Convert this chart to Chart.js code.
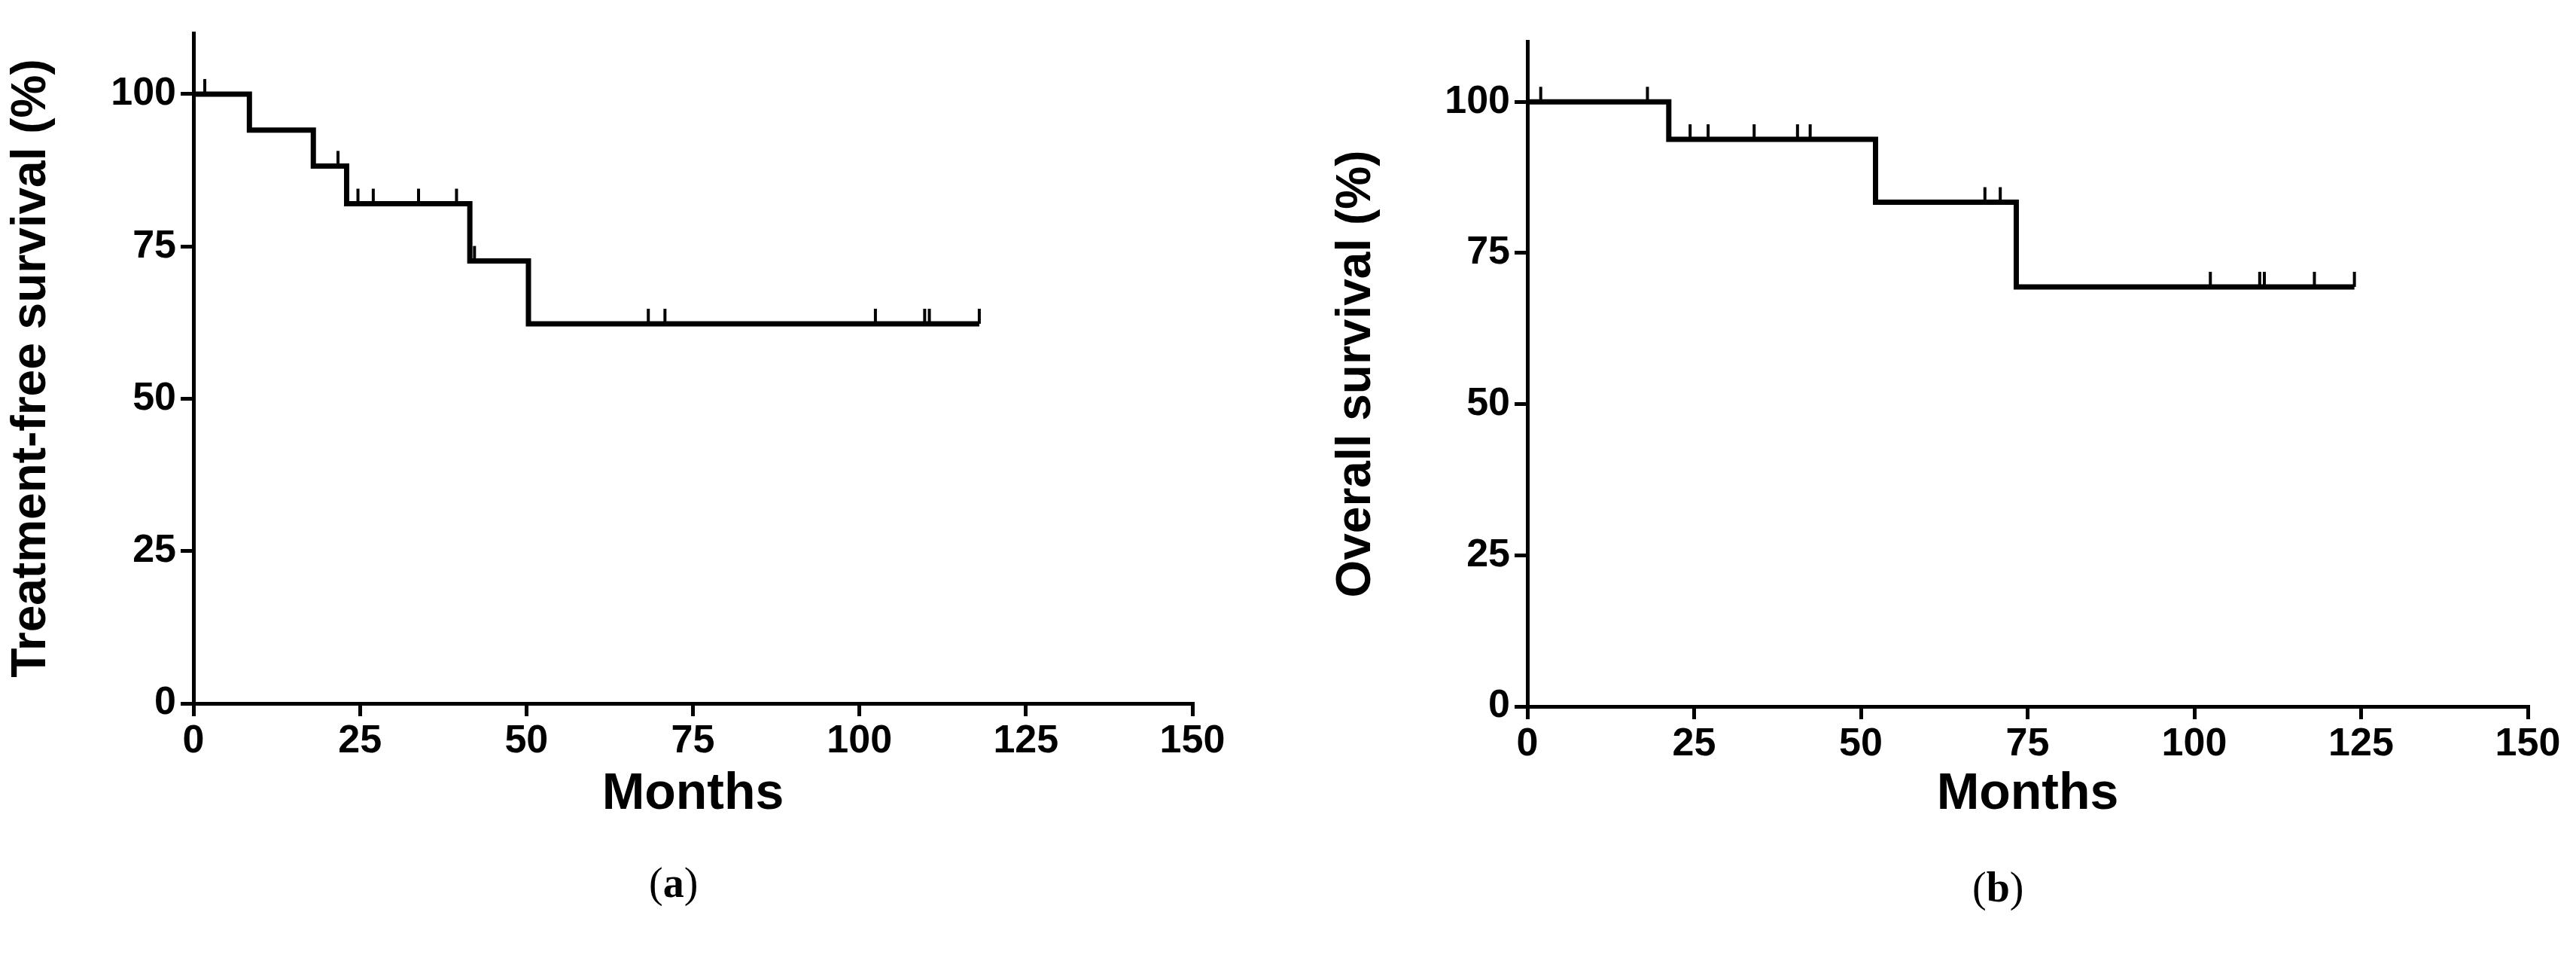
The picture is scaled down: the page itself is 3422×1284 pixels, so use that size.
<!DOCTYPE html>
<html>
<head>
<meta charset="utf-8">
<script src="https://cdn.jsdelivr.net/npm/chart.js@4.4.0/dist/chart.umd.min.js"></script>
<style>
  body { margin: 0; background: #fff; width: 3422px; height: 1284px; position: relative; overflow: hidden; }
  canvas { position: absolute; top: 0; }
  .cap { position: absolute; font-family: "Liberation Serif", serif; font-size: 56px; color: #000; }
</style>
</head>
<body>
<canvas id="chartA" width="1700" height="1100" style="left:0"></canvas>
<canvas id="chartB" width="1662" height="1100" style="left:1760px"></canvas>
<div class="cap" style="left:862px; top:1140px">(<b>a</b>)</div>
<div class="cap" style="left:2620px; top:1146px">(<b>b</b>)</div>
<script>
// treatment-free survival: event times (months) and survival after each step
const tfsTimes = [0, 8.4, 18, 23, 41.5, 50.3, 118];
const tfsValues = [100, 94.1, 88.2, 82.0, 72.6, 62.3, 62.3];
const tfsCensorTimes = [1.7, 21.7, 24.7, 27, 33.8, 39.5, 42.2, 68.3, 70.8, 102.4, 109.8, 110.5, 118];

// overall survival
const osTimes = [0, 21.2, 52.2, 73.3, 124];
const osValues = [100, 93.8, 83.4, 69.4, 69.4];
const osCensorTimes = [2, 18, 24.4, 27.1, 34, 40.5, 42.4, 68.6, 70.9, 102.4, 109.8, 110.5, 118, 124];

const xTicks = [0, 25, 50, 75, 100, 125, 150];
const yTicks = [0, 25, 50, 75, 100];

// level of the curve at a given time
function levelAt(times, values, t) {
    let v = values[0];
    for (let i = 0; i < times.length; i++) {
        if (times[i] <= t) v = values[i];
    }
    return v;
}

const censorPlugin = {
    id: 'censor',
    afterDatasetsDraw(chart, args, opts) {
        const { ctx, scales } = chart;
        ctx.save();
        ctx.strokeStyle = '#000';
        ctx.lineWidth = 4;
        opts.times.forEach(t => {
            const x = scales.x.getPixelForValue(t);
            const y = scales.y.getPixelForValue(levelAt(opts.stepTimes, opts.stepValues, t));
            ctx.beginPath();
            ctx.moveTo(x, y);
            ctx.lineTo(x, y - 20);
            ctx.stroke();
        });
        ctx.restore();
    }
};

function makeChart(id, times, values, censors, yTitle, yWidth, xHeight, top, right) {
    const pts = times.map((t, i) => ({ x: t, y: values[i] }));
    return new Chart(document.getElementById(id), {
        type: 'line',
        data: {
            datasets: [{
                data: pts,
                borderColor: '#000',
                borderWidth: 7,
                stepped: 'before',
                pointRadius: 0,
                fill: false,
            }],
        },
        plugins: [censorPlugin],
        options: {
            responsive: false,
            animation: false,
            layout: { padding: { top: top, right: right } },
            plugins: {
                legend: { display: false },
                tooltip: { enabled: false },
                censor: { times: censors, stepTimes: times, stepValues: values },
            },
            scales: {
                x: {
                    type: 'linear',
                    min: 0,
                    max: 150,
                    afterBuildTicks: s => { s.ticks = xTicks.map(v => ({ value: v })); },
                    afterFit: s => { s.height = xHeight; },
                    border: { color: '#000', width: 5 },
                    grid: { drawOnChartArea: false, color: '#000', lineWidth: 5, tickLength: 17 },
                    ticks: { color: '#000', font: { family: 'Liberation Sans', weight: 'bold', size: 52 }, padding: 2 },
                    title: { display: true, text: 'Months', color: '#000', font: { family: 'Liberation Sans', weight: 'bold', size: 68 }, padding: { top: 0 } },
                },
                y: {
                    min: 0,
                    max: 110,
                    afterBuildTicks: s => { s.ticks = yTicks.map(v => ({ value: v })); },
                    afterFit: s => { s.width = yWidth; },
                    border: { color: '#000', width: 5 },
                    grid: { drawOnChartArea: false, color: '#000', lineWidth: 5, tickLength: 17 },
                    ticks: { color: '#000', font: { family: 'Liberation Sans', weight: 'bold', size: 52 }, padding: 6 },
                    title: { display: true, text: yTitle, color: '#000', font: { family: 'Liberation Sans', weight: 'bold', size: 64 }, padding: { bottom: 2 } },
                },
            },
        },
    });
}

makeChart('chartA', tfsTimes, tfsValues, tfsCensorTimes, 'Treatment-free survival (%)', 257, 166, 44, 116);
makeChart('chartB', osTimes, osValues, osCensorTimes, 'Overall survival (%)', 269, 162, 55, 64);
</script>
</body>
</html>
